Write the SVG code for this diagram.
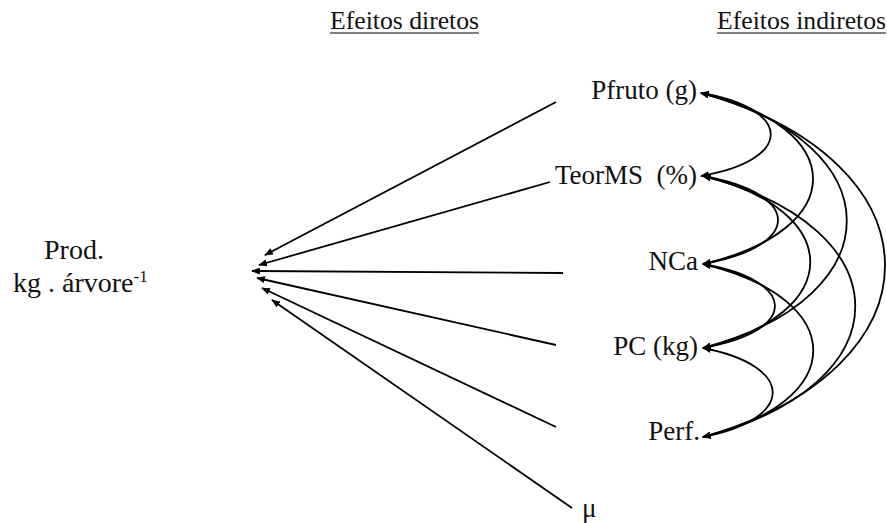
<svg xmlns="http://www.w3.org/2000/svg" width="887" height="523" viewBox="0 0 887 523" font-family="Liberation Serif, Times New Roman, serif" font-size="27">
<style>
text{fill:#111}
.ln{stroke:#000;stroke-width:1.8;fill:none}
.ul{stroke:#000;stroke-width:1.2}
.hd{font-size:25.7px}
.lf{font-size:28px}
</style>
<defs>
<marker id="ah" viewBox="0 0 10 8" refX="9" refY="4" markerWidth="9" markerHeight="7" markerUnits="userSpaceOnUse" orient="auto-start-reverse">
<path d="M0,0 L10,4 L0,8 z" fill="#000"/>
</marker>
</defs>
<rect width="887" height="523" fill="#fff"/>
<g id="headings">
<text class="hd" x="330" y="29">Efeitos diretos</text>
<line class="ul" x1="330" y1="33" x2="479" y2="33"/>
<text class="hd" x="717" y="29">Efeitos indiretos</text>
<line class="ul" x1="717" y1="33" x2="886" y2="33"/>
</g>
<g id="prod">
<text class="lf" x="74" y="259" text-anchor="middle">Prod.</text>
<text class="lf" x="13" y="292">kg . árvore<tspan font-size="17" dy="-10">-1</tspan></text>
</g>
<g id="pfruto"><text x="697" y="99" text-anchor="end">Pfruto (g)</text></g>
<g id="teorms"><text x="697" y="184" text-anchor="end" xml:space="preserve">TeorMS  (%)</text></g>
<g id="nca"><text x="698" y="270" text-anchor="end">NCa</text></g>
<g id="pc"><text x="698" y="355" text-anchor="end">PC (kg)</text></g>
<g id="perf"><text x="700" y="440" text-anchor="end">Perf.</text></g>
<g id="mu"><text x="582" y="517">μ</text></g>
<g id="connectors">
<line class="ln" x1="556" y1="102" x2="265" y2="255" marker-end="url(#ah)"/>
<line class="ln" x1="550" y1="182" x2="259" y2="265" marker-end="url(#ah)"/>
<line class="ln" x1="563" y1="273" x2="252" y2="271" marker-end="url(#ah)"/>
<line class="ln" x1="556" y1="345" x2="257" y2="278" marker-end="url(#ah)"/>
<line class="ln" x1="556" y1="427" x2="262" y2="288" marker-end="url(#ah)"/>
<line class="ln" x1="572" y1="508" x2="272" y2="300" marker-end="url(#ah)"/>
<path class="ln" d="M701,93 C794,109 794,160 701,176" marker-start="url(#ah)" marker-end="url(#ah)"/>
<path class="ln" d="M703,176 C803,194 803,246 703,264" marker-start="url(#ah)" marker-end="url(#ah)"/>
<path class="ln" d="M703,264 C799,281 799,331 703,348" marker-start="url(#ah)" marker-end="url(#ah)"/>
<path class="ln" d="M703,348 C796,366 796,419 703,437" marker-start="url(#ah)" marker-end="url(#ah)"/>
<path class="ln" d="M701,93 C850,127 850,230 703,264" marker-start="url(#ah)" marker-end="url(#ah)"/>
<path class="ln" d="M703,176 C846,210 846,314 703,348" marker-start="url(#ah)" marker-end="url(#ah)"/>
<path class="ln" d="M703,264 C850,299 850,402 703,437" marker-start="url(#ah)" marker-end="url(#ah)"/>
<path class="ln" d="M701,93 C895,144 895,297 703,348" marker-start="url(#ah)" marker-end="url(#ah)"/>
<path class="ln" d="M703,176 C906,228 906,385 703,437" marker-start="url(#ah)" marker-end="url(#ah)"/>
<path class="ln" d="M701,93 C946,162 946,368 703,437" marker-start="url(#ah)" marker-end="url(#ah)"/>
</g>
</svg>
